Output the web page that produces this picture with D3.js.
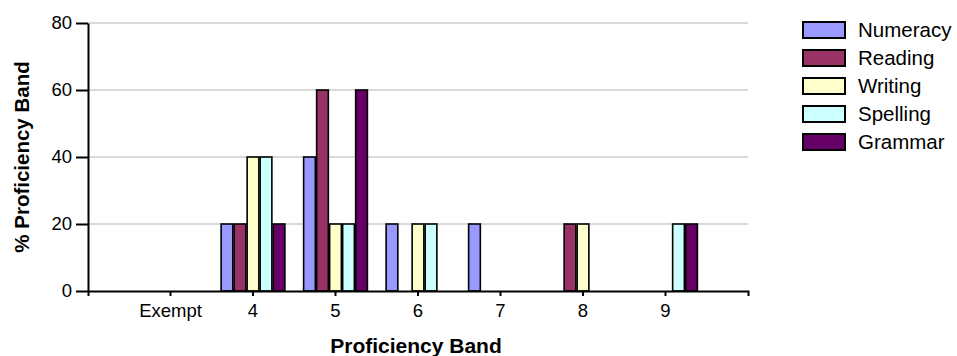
<!DOCTYPE html>
<html>
<head>
<meta charset="utf-8">
<script src="https://cdn.jsdelivr.net/npm/d3@7"></script>
<style>
  html, body { margin: 0; padding: 0; background: #fff; }
  svg { display: block; font-family: Arial, "Liberation Sans", sans-serif; }
</style>
</head>
<body>
<svg id="chart" width="957" height="356"></svg>
<script>
// Proficiency bands shown along the x axis
const categories = ["Exempt", "4", "5", "6", "7", "8", "9"];
// Subject series
const seriesNames = ["Numeracy", "Reading", "Writing", "Spelling", "Grammar"];
const seriesColors = ["#9999FF", "#993366", "#FFFFCC", "#CCFFFF", "#660066"];
// Percentage of students in each band, per subject
const numeracy = [0, 20, 40, 20, 20, 0, 0];
const reading  = [0, 20, 60, 0, 0, 20, 0];
const writing  = [0, 40, 20, 20, 0, 20, 0];
const spelling = [0, 40, 20, 20, 0, 0, 20];
const grammar  = [0, 20, 60, 0, 0, 0, 20];
const yTicks = [0, 20, 40, 60, 80];

const seriesValues = [numeracy, reading, writing, spelling, grammar];

const svg = d3.select("#chart");
const plotLeft = 88, plotRight = 748, plotTop = 23, plotBottom = 291;

const x0 = d3.scaleBand().domain(categories).range([plotLeft, plotRight])
  .paddingInner(0).paddingOuter(0.5);
const x1 = d3.scaleBand().domain(seriesNames).range([0, x0.bandwidth()])
  .paddingInner(0.1).paddingOuter(0.72);
const y = d3.scaleLinear().domain([0, 80]).range([plotBottom, plotTop]);

// Horizontal gridlines
svg.append("g").selectAll("line")
  .data(yTicks.filter(d => d > 0))
  .join("line")
  .attr("x1", plotLeft).attr("x2", plotRight)
  .attr("y1", d => y(d)).attr("y2", d => y(d))
  .attr("stroke", "#d9d9d9").attr("stroke-width", 2);

// Bars, one group per band
const groups = svg.append("g").selectAll("g")
  .data(categories)
  .join("g")
  .attr("transform", d => `translate(${x0(d)},0)`);

groups.selectAll("rect")
  .data((c, i) => seriesNames.map((s, j) => ({ s, j, v: seriesValues[j][i] })).filter(d => d.v > 0))
  .join("rect")
  .attr("x", d => x1(d.s))
  .attr("width", x1.bandwidth())
  .attr("y", d => y(d.v))
  .attr("height", d => y(0) - y(d.v))
  .attr("fill", d => seriesColors[d.j])
  .attr("stroke", "#000")
  .attr("stroke-width", 1.6);

// Axes
const yAxis = svg.append("g")
  .attr("transform", `translate(${plotLeft},0)`)
  .call(d3.axisLeft(y).tickValues(yTicks).tickSize(12).tickSizeOuter(0).tickPadding(4));
const xAxis = svg.append("g")
  .attr("transform", `translate(0,${plotBottom})`)
  .call(d3.axisBottom(x0).tickSize(5).tickSizeOuter(5).tickPadding(8));

[yAxis, xAxis].forEach(a => {
  a.selectAll("path, line").attr("stroke", "#000").attr("stroke-width", 2);
  a.selectAll("text").attr("fill", "#000").style("font-size", "18.5px")
    .style("font-family", "Arial, 'Liberation Sans', sans-serif");
});

// Axis titles
svg.append("text")
  .attr("transform", "translate(29,157) rotate(-90)")
  .attr("text-anchor", "middle")
  .style("font-size", "20.5px").style("font-weight", "bold")
  .text("% Proficiency Band");
svg.append("text")
  .attr("x", 416).attr("y", 353)
  .attr("text-anchor", "middle")
  .style("font-size", "21px").style("font-weight", "bold")
  .text("Proficiency Band");

// Legend
const legend = svg.append("g").selectAll("g")
  .data(seriesNames)
  .join("g")
  .attr("transform", (d, i) => `translate(803,${22 + i * 28})`);
legend.append("rect")
  .attr("width", 42).attr("height", 16)
  .attr("fill", (d, i) => seriesColors[i])
  .attr("stroke", "#000").attr("stroke-width", 2);
legend.append("text")
  .attr("x", 55).attr("y", 15)
  .style("font-size", "20.5px")
  .text(d => d);
</script>
</body>
</html>
